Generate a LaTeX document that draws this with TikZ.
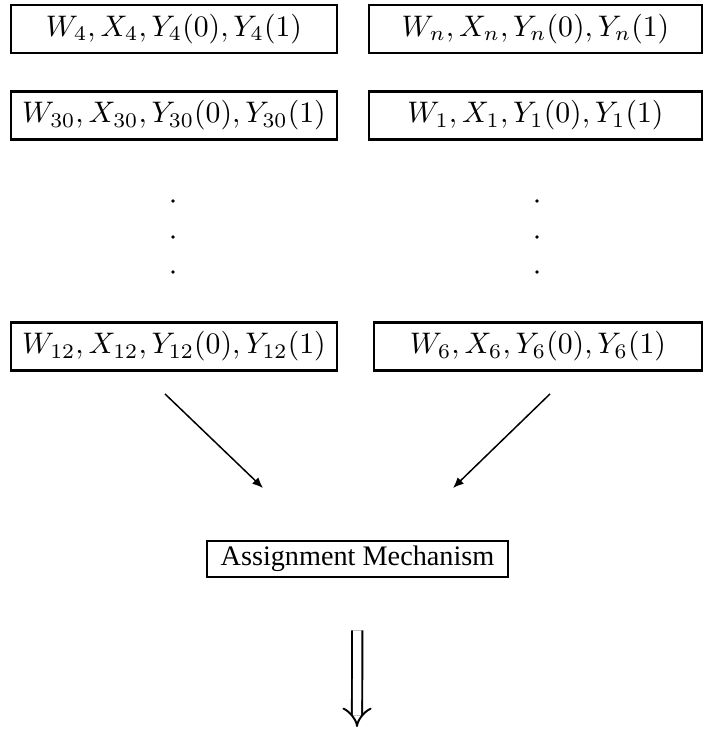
\documentclass[tikz,border=0pt]{standalone}
\usepackage{amsmath,amssymb}
\usepackage{fontspec}
\newfontfamily\timesfont[Scale=0.95]{Liberation Serif}
\usepackage{tikz}
\usetikzlibrary{positioning, arrows.meta, calc}

\begin{document}
\begin{tikzpicture}[x=0.01183cm, y=-0.01183cm, font=\normalsize,
		unitbox/.style={draw, line width=0.95pt, minimum height=0.568cm, inner sep=1pt},
		flow/.style={-{Latex[length=3.6pt, width=3pt]}, line width=0.5pt}]
			\useasboundingbox (0,0) rectangle (709,732);

			% Units, left column
			\node[unitbox, minimum width=3.857cm] (w4) at (174, 29) {$W_4, X_4, Y_4(0), Y_4(1)$};
			\node[unitbox, minimum width=3.857cm] (w30) at (174, 115.5) {$W_{30}, X_{30}, Y_{30}(0), Y_{30}(1)$};
			\node[unitbox, minimum width=3.857cm] (w12) at (174, 346.5) {$W_{12}, X_{12}, Y_{12}(0), Y_{12}(1)$};

			% Units, right column
			\node[unitbox, minimum width=3.939cm] (wn) at (535.5, 29) {$W_n, X_n, Y_n(0), Y_n(1)$};
			\node[unitbox, minimum width=3.939cm] (w1) at (535.5, 115.5) {$W_1, X_1, Y_1(0), Y_1(1)$};
			\node[unitbox, minimum width=3.880cm] (w6) at (538, 346.5) {$W_6, X_6, Y_6(0), Y_6(1)$};

			% Dots between the rows
			\foreach \y in {201, 237, 272} {
				\fill (173, \y) circle (1.8);
				\fill (537, \y) circle (1.8);
			}

			% Assignment
			\node[draw, line width=0.95pt, minimum width=3.561cm, minimum height=0.426cm, inner sep=1pt, font=\timesfont] (mech) at (357.5, 559) {Assignment Mechanism};

			\coordinate (lend) at (263, 488);
			\coordinate (rend) at (453, 488);
			\draw[flow] ($(w12.south)+(-9,22)$) -- (lend);
			\draw[flow] ($(w6.south)+(12,22)$) -- (rend);

			% Output arrow
			\coordinate (out) at (357, 727);
			\draw[double, double distance=2.8pt, line width=0.65pt, -{Implies}, shorten <=0.615cm] (mech.south) -- (out);
		\end{tikzpicture}
\end{document}
